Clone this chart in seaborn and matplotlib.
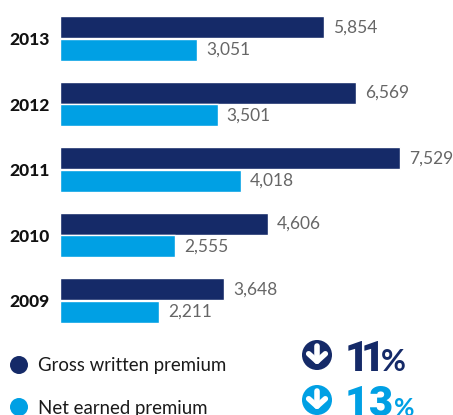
import matplotlib
matplotlib.use("Agg")
import matplotlib.pyplot as plt
import pandas as pd
import seaborn as sns
from matplotlib.patches import Circle

years = ["2013", "2012", "2011", "2010", "2009"]
gross_written = [5854, 6569, 7529, 4606, 3648]
net_earned = [3051, 3501, 4018, 2555, 2211]
series_names = ["Gross written premium", "Net earned premium"]
change_labels = ["11", "13"]

NAVY = "#152a68"
BLUE = "#00a0e4"
GREY = "#666666"
W, H = 453, 415
LEFT = 59.5
PX_PER_UNIT = 0.0452
ROW_PITCH = 65.5
FIRST_ROW = 38.5

sns.set_theme(style="white")
plt.rcParams["font.family"] = ["Lato", "DejaVu Sans"]

df = pd.DataFrame({
    "year": years * 2,
    "value": gross_written + net_earned,
    "series": [series_names[0]] * 5 + [series_names[1]] * 5,
})

fig = plt.figure(figsize=(W / 100, H / 100), dpi=100, facecolor="white")
ax = fig.add_axes([LEFT / W, 0, 1 - LEFT / W, 1])
sns.barplot(data=df, y="year", x="value", hue="series", order=years,
            hue_order=series_names, palette=[NAVY, BLUE], width=0.69,
            gap=0.03, saturation=1, legend=False, ax=ax, orient="h")
ax.set_xlim(0, (W - LEFT) / PX_PER_UNIT)
ax.set_ylim((H - FIRST_ROW) / ROW_PITCH, -FIRST_ROW / ROW_PITCH)
ax.set_xlabel("")
ax.set_ylabel("")
ax.set_xticks([])
ax.set_yticks(range(len(years)), labels=years)
ax.tick_params(axis="y", length=0, pad=36, labelsize=12.5)
for lbl in ax.get_yticklabels():
    lbl.set_fontweight("black")
    lbl.set_color("#111111")
    lbl.set_horizontalalignment("left")
sns.despine(ax=ax, left=True, bottom=True, top=True, right=True)

# Value labels at the end of each bar
for container in ax.containers:
    ax.bar_label(container, fmt="{:,.0f}", padding=6.5, color=GREY, fontsize=12.5)

# Key and change indicators, placed in pixel coordinates
overlay = fig.add_axes([0, 0, 1, 1], facecolor="none")
overlay.set_xlim(0, W)
overlay.set_ylim(H, 0)
overlay.axis("off")

rows = [(365, 365, NAVY, 355, 8, 22, -4), (407, 408, BLUE, 400, 0, 18, 1)]
for (dot_y, y, colour, icon_y, tighten, pct_size, pct_gap), name, pct in zip(rows, series_names, change_labels):
    overlay.add_patch(Circle((19, dot_y), 9, color=colour, lw=0))
    overlay.text(38, y, name, va="center", ha="left", fontsize=13.4, color="#1a1a1a")
    overlay.add_patch(Circle((317, icon_y), 15, color=colour, lw=0))
    overlay.annotate("", xy=(317, icon_y + 10), xytext=(317, icon_y - 9),
                     arrowprops=dict(arrowstyle="->,head_length=0.45,head_width=0.5",
                                     color="white", lw=4, shrinkA=0, shrinkB=0))
    # Digits are set one by one so the pair of ones can sit closer together
    x = 345
    for digit in pct:
        glyph = overlay.text(x, icon_y + 16, digit, va="baseline", ha="left", fontsize=30,
                             fontfamily="Roboto", fontweight="black", color=colour)
        fig.canvas.draw()
        box = glyph.get_window_extent().transformed(overlay.transData.inverted())
        x = box.x1 - tighten
    overlay.text(x + tighten + pct_gap, icon_y + 16, "%", va="baseline", ha="left",
                 fontsize=pct_size, fontweight="bold", color=colour)

fig.savefig("out.png", dpi=100)
